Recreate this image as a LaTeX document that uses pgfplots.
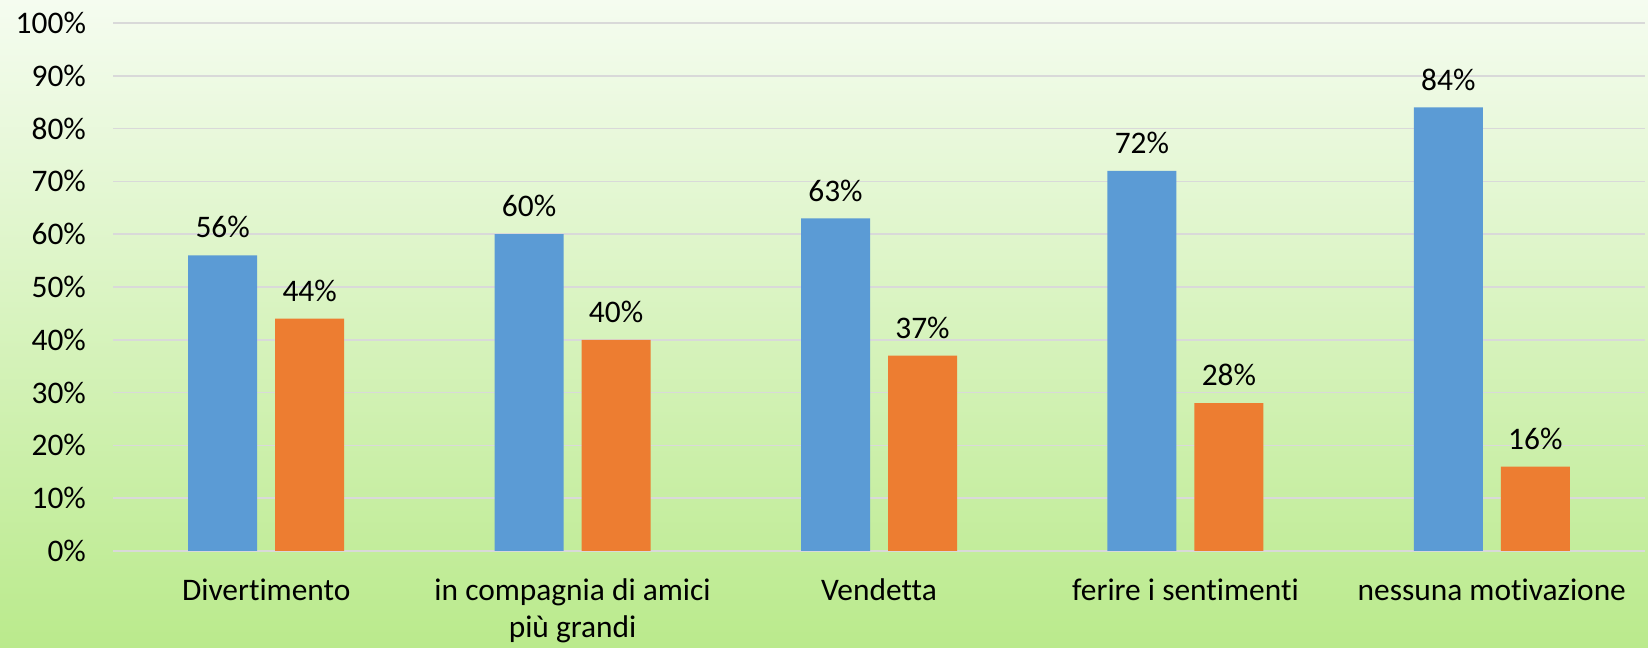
\documentclass[border=0pt]{standalone}
\usepackage{pgfplots}
\pgfplotsset{compat=1.18}
\usepackage{fontspec}
\setmainfont{Carlito}[Ligatures=NoCommon]
\definecolor{cblue}{HTML}{5B9BD5}
\definecolor{corange}{HTML}{ED7D31}
\definecolor{cgrid}{HTML}{D9D9D9}
\definecolor{bgtop}{RGB}{245,252,240}
\definecolor{bgbot}{RGB}{186,234,140}
\begin{document}
\begin{tikzpicture}
\fill[top color=bgtop, bottom color=bgbot, draw=none] (0,0) rectangle (824pt,324pt);
\begin{axis}[
  at={(56.5pt,48.5pt)}, anchor=south west,
  scale only axis,
  width=766pt, height=264pt,
  ybar=9pt, bar width=34.5pt,
  xmin=-0.5, xmax=4.5,
  ymin=0, ymax=100,
  xtick={0,1,2,3,4},
  xticklabels={Divertimento, {in compagnia di amici\\più grandi}, Vendetta, ferire i sentimenti, nessuna motivazione},
  ytick={0,10,...,100},
  yticklabel={\pgfmathprintnumber{\tick}\%},
  /pgf/number format/assume math mode=true,
  major tick length=0pt,
  axis line style={draw=none},
  ymajorgrids, grid style={cgrid, line width=0.75pt},
  font=\fontsize{15.7}{18.3}\selectfont,
  yticklabel style={xshift=-10pt},
  xticklabel style={align=center, yshift=-10.5pt},
  nodes near coords={\pgfmathprintnumber{\pgfplotspointmeta}\%},
  every node near coord/.append style={font=\fontsize{15.7}{18.3}\selectfont, yshift=5pt, /pgf/number format/assume math mode=true},
  clip=false,
]
\addplot[fill=cblue, draw=none] coordinates {(0,56) (1,60) (2,63) (3,72) (4,84)};
\addplot[fill=corange, draw=none] coordinates {(0,44) (1,40) (2,37) (3,28) (4,16)};
\end{axis}
\end{tikzpicture}
\end{document}
